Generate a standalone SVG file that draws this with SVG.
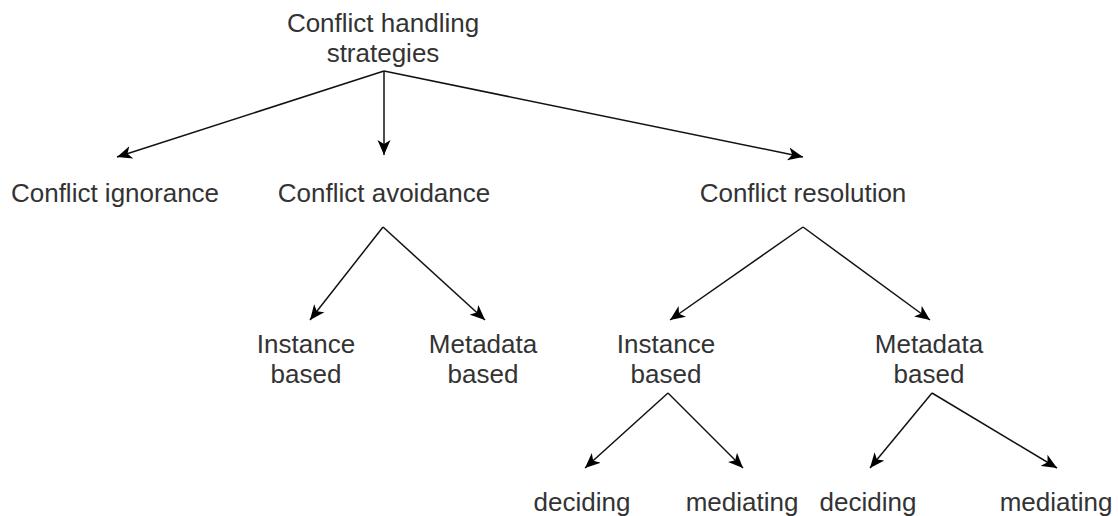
<svg xmlns="http://www.w3.org/2000/svg" width="1118" height="516" viewBox="0 0 1118 516">
<defs>
<marker id="arr" markerUnits="userSpaceOnUse" markerWidth="16" markerHeight="14" viewBox="0 0 16 14" refX="15" refY="7" orient="auto">
<path d="M15,7 L0,0.5 L4,7 L0,13.5 Z" fill="#000"/>
</marker>
<style>
.t{font-family:"Liberation Sans",Arial,Helvetica,sans-serif;font-size:26px;fill:#333;text-anchor:middle}
.c{fill:none;stroke:#111;stroke-width:1.5;marker-end:url(#arr)}
</style>
</defs>
<rect width="1118" height="516" fill="#fff"/>
<g id="connectors">
<path class="c" d="M384,71 L117,157"/>
<path class="c" d="M384,71 L384,155"/>
<path class="c" d="M384,71 L803,157"/>
<path class="c" d="M383,227 L310,320"/>
<path class="c" d="M383,227 L485,320"/>
<path class="c" d="M803,227 L670,320"/>
<path class="c" d="M803,227 L930,320"/>
<path class="c" d="M668,393 L585,468"/>
<path class="c" d="M668,393 L743,468"/>
<path class="c" d="M932,393 L870,468"/>
<path class="c" d="M932,393 L1057,468"/>
</g>
<g id="root"><text class="t" x="383" y="32">Conflict handling</text><text class="t" x="383" y="62">strategies</text></g>
<g id="ignorance"><text class="t" x="115" y="202">Conflict ignorance</text></g>
<g id="avoidance"><text class="t" x="384" y="202">Conflict avoidance</text></g>
<g id="resolution"><text class="t" x="803" y="202">Conflict resolution</text></g>
<g id="av-instance"><text class="t" x="306" y="353">Instance</text><text class="t" x="306" y="383">based</text></g>
<g id="av-metadata"><text class="t" x="483" y="353">Metadata</text><text class="t" x="483" y="383">based</text></g>
<g id="res-instance"><text class="t" x="666" y="353">Instance</text><text class="t" x="666" y="383">based</text></g>
<g id="res-metadata"><text class="t" x="929" y="353">Metadata</text><text class="t" x="929" y="383">based</text></g>
<g id="inst-deciding"><text class="t" x="582" y="511">deciding</text></g>
<g id="inst-mediating"><text class="t" x="742" y="511">mediating</text></g>
<g id="meta-deciding"><text class="t" x="868" y="511">deciding</text></g>
<g id="meta-mediating"><text class="t" x="1056" y="511">mediating</text></g>
</svg>
